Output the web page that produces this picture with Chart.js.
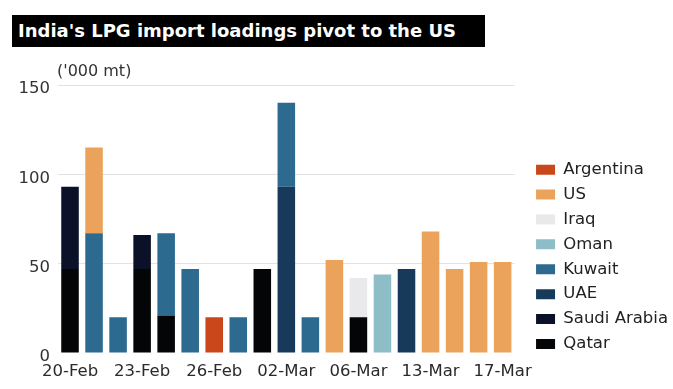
<!DOCTYPE html>
<html>
<head>
<meta charset="utf-8">
<script src="https://cdn.jsdelivr.net/npm/chart.js@4.4.1/dist/chart.umd.min.js"></script>
<style>
  html, body { margin: 0; padding: 0; background: #fff; }
  #wrap { position: relative; width: 673px; height: 389px; overflow: hidden; }
  canvas { position: absolute; left: 0; top: 0; }
  #title {
    position: absolute; left: 12px; top: 15px; width: 467px; height: 32px;
    padding-left: 6px; background: #000; color: #fff;
    font: bold 18px "DejaVu Sans"; line-height: 32px; white-space: nowrap;
  }
  #unit { position: absolute; left: 57px; top: 61px; font: 16px "DejaVu Sans"; color: #333; }
</style>
</head>
<body>
<div id="wrap">
  <canvas id="chart" width="673" height="389"></canvas>
  <div id="title">India's LPG import loadings pivot to the US</div>
  <div id="unit">('000 mt)</div>
</div>
<script>
// loading dates, only every third one is labelled on the axis
const dates = ["20-Feb", "", "", "23-Feb", "", "", "26-Feb", "", "", "02-Mar", "", "",
               "06-Mar", "", "", "13-Mar", "", "", "17-Mar"];

// volumes in '000 mt, stacked bottom to top
const qatar      = [47, null, null, 47, 21, null, null, null, 47, null, null, null, 20, null, null, null, null, null, null];
const saudi      = [46, null, null, 19, null, null, null, null, null, null, null, null, null, null, null, null, null, null, null];
const uae        = [null, null, null, null, null, null, null, null, null, 93, null, null, null, null, 47, null, null, null, null];
const kuwait     = [null, 67, 20, null, 46, 47, null, 20, null, 47, 20, null, null, null, null, null, null, null, null];
const oman       = [null, null, null, null, null, null, null, null, null, null, null, null, null, 44, null, null, null, null, null];
const iraq       = [null, null, null, null, null, null, null, null, null, null, null, null, 22, null, null, null, null, null, null];
const us         = [null, 48, null, null, null, null, null, null, null, null, null, 52, null, null, null, 68, 47, 51, 51];
const argentina  = [null, null, null, null, null, null, 20, null, null, null, null, null, null, null, null, null, null, null, null];

const yTicks = [0, 50, 100, 150];

const FONT = "DejaVu Sans";
const LEGEND_SHIFT = { x: 13, y: 68 };

function series(label, data, color) {
    return {
        label,
        data,
        backgroundColor: color,
        borderWidth: 0,
        barPercentage: 0.73,
        categoryPercentage: 1.0
    };
}

// push the legend block over to where the original sits
const legendShift = {
    id: "legendShift",
    afterLayout(chart) {
        const lg = chart.legend;
        lg.left += LEGEND_SHIFT.x;
        lg.right += LEGEND_SHIFT.x;
        lg.top += LEGEND_SHIFT.y;
        lg.bottom += LEGEND_SHIFT.y;
    }
};

new Chart(document.getElementById("chart"), {
    type: "bar",
    data: {
        labels: dates,
        datasets: [
            series("Qatar", qatar, "#040506"),
            series("Saudi Arabia", saudi, "#0b1128"),
            series("UAE", uae, "#173a5b"),
            series("Kuwait", kuwait, "#2c6a8f"),
            series("Oman", oman, "#8dbdc7"),
            series("Iraq", iraq, "#e9e9eb"),
            series("US", us, "#eba35c"),
            series("Argentina", argentina, "#c9471b")
        ]
    },
    plugins: [legendShift],
    options: {
        responsive: false,
        animation: false,
        layout: { padding: { top: 85, left: 18, right: 8, bottom: 0 } },
        scales: {
            x: {
                stacked: true,
                grid: { display: false, drawTicks: false },
                border: { display: false },
                afterFit: (axis) => { axis.height = 36; },
                ticks: {
                    autoSkip: false,
                    maxRotation: 0,
                    padding: 9,
                    color: "#2a2a2a",
                    font: { family: FONT, size: 16.5 }
                }
            },
            y: {
                stacked: true,
                min: yTicks[0],
                max: yTicks[yTicks.length - 1],
                afterBuildTicks: (axis) => { axis.ticks = yTicks.map((v) => ({ value: v })); },
                afterFit: (axis) => { axis.width = 40; },
                border: { display: false },
                grid: {
                    drawTicks: false,
                    color: (ctx) => (ctx.tick && ctx.tick.value === 0 ? "rgba(0,0,0,0)" : "#e2e2e2")
                },
                ticks: {
                    padding: 8,
                    labelOffset: 4,
                    color: "#333",
                    font: { family: FONT, size: 16.5 }
                }
            }
        },
        plugins: {
            legend: {
                position: "right",
                align: "start",
                reverse: true,
                labels: {
                    boxWidth: 19,
                    boxHeight: 10,
                    padding: 8.4,
                    color: "#222",
                    font: { family: FONT, size: 16.5 }
                }
            },
            tooltip: { enabled: false }
        }
    }
});
</script>
</body>
</html>
